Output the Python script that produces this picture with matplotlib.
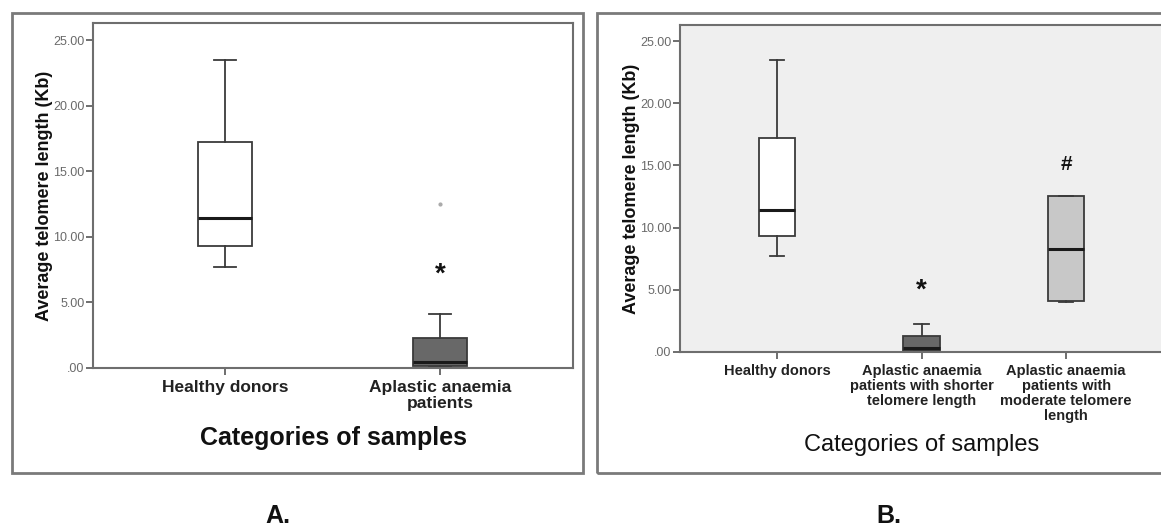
import matplotlib
matplotlib.use("Agg")
import matplotlib.pyplot as plt
from matplotlib.patches import Rectangle
from matplotlib.ticker import FuncFormatter

plt.rcParams['font.family'] = ['Liberation Sans', 'DejaVu Sans']

# panel A data (box statistics, kb)
cats_a = ["Healthy donors", "Aplastic anaemia\npatients"]
low_a = [7.7, 0.05]
q1_a = [9.3, 0.12]
med_a = [11.4, 0.45]
q3_a = [17.25, 2.25]
high_a = [23.5, 4.1]
fliers_a = [[], [12.5]]
colors_a = ["white", "#686868"]
marks_a = ["", "*"]
mark_y_a = [0, 7.1]

# panel B data
cats_b = ["Healthy donors",
          "Aplastic anaemia\npatients with shorter\ntelomere length",
          "Aplastic anaemia\npatients with\nmoderate telomere\nlength"]
low_b = [7.7, 0.05, 4.05]
q1_b = [9.3, 0.1, 4.1]
med_b = [11.4, 0.3, 8.3]
q3_b = [17.25, 1.3, 12.55]
high_b = [23.5, 2.25, 12.55]
colors_b = ["white", "#686868", "#c8c8c8"]
marks_b = ["", "*", "#"]
mark_y_b = [0, 4.9, 15.1]

yticks = [0, 5, 10, 15, 20, 25]

W, H = 1161, 526
fig = plt.figure(figsize=(W / 100, H / 100), dpi=100)


def px(x0, y0, x1, y1):
    # pixel box (top-left origin) -> figure fraction rect
    return [x0 / W, 1 - y1 / H, (x1 - x0) / W, (y1 - y0) / H]


def fmt(v, pos):
    s = "%.2f" % v
    return s[1:] if s.startswith("0") else s


# outer panel frames
for x0, x1 in [(12, 583), (597, 1180)]:
    r = px(x0, 13, x1, 473)
    fig.patches.append(Rectangle((r[0], r[1]), r[2], r[3], transform=fig.transFigure,
                                 fill=False, edgecolor="#7a7a7a", lw=2))


def draw(ax, cats, low, q1, med, q3, high, fliers, colors, marks, mark_y,
         xlim, catsize, catspace, labsize, labweight, labpad, facecolor):
    stats = []
    for i in range(len(cats)):
        stats.append(dict(whislo=low[i], q1=q1[i], med=med[i], q3=q3[i],
                          whishi=high[i], fliers=fliers[i]))
    pos = list(range(1, len(cats) + 1))
    bp = ax.bxp(stats, positions=pos, widths=0.25, patch_artist=True,
                capwidths=0.1,
                boxprops=dict(edgecolor="#3a3a3a", lw=1.3),
                medianprops=dict(color="#1a1a1a", lw=2.2),
                whiskerprops=dict(color="#3a3a3a", lw=1.3),
                capprops=dict(color="#3a3a3a", lw=1.3),
                flierprops=dict(marker="o", markersize=2, markerfacecolor="#aaaaaa",
                                markeredgecolor="#aaaaaa"))
    for b, c in zip(bp["boxes"], colors):
        b.set_facecolor(c)
    for p, m, y in zip(pos, marks, mark_y):
        if m:
            ax.text(p, y, m, ha="center", va="center", fontsize=20 if m == "*" else 15,
                    fontweight="bold", color="#111111")
    ax.set_facecolor(facecolor)
    ax.set_xlim(*xlim)
    ax.set_ylim(0, 26.3)
    ax.set_yticks(yticks)
    ax.yaxis.set_major_formatter(FuncFormatter(fmt))
    ax.set_xticks(pos)
    ax.set_xticklabels(cats, fontsize=catsize, fontweight="bold", color="#222222",
                       linespacing=catspace)
    ax.tick_params(axis="y", labelsize=9, labelcolor="#6a6a6a", color="#555555",
                   length=5, width=1.2, pad=1)
    ax.tick_params(axis="x", color="#555555", length=5, width=1.2)
    for s in ax.spines.values():
        s.set_color("#6e6e6e")
        s.set_linewidth(1.5)
    ax.set_ylabel("Average telomere length (Kb)", fontsize=13, fontweight="bold",
                  color="#111111", labelpad=0)
    ax.set_xlabel("Categories of samples", fontsize=labsize, fontweight=labweight,
                  color="#111111", labelpad=labpad)


ax_a = fig.add_axes(px(93, 23, 573, 368))
draw(ax_a, cats_a, low_a, q1_a, med_a, q3_a, high_a, fliers_a, colors_a,
     marks_a, mark_y_a, (0.385, 2.62), 12.5, 1.1, 18, "bold", 11, "white")

ax_b = fig.add_axes(px(680, 25, 1163, 352))
draw(ax_b, cats_b, low_b, q1_b, med_b, q3_b, high_b, [[], [], []], colors_b,
     marks_b, mark_y_b, (0.33, 3.67), 10.5, 1.1, 17, "normal", 8, "#efefef")

fig.text(278 / W, 1 - 516 / H, "A.", ha="center", va="center", fontsize=18,
         fontweight="bold", color="#111111")
fig.text(889 / W, 1 - 516 / H, "B.", ha="center", va="center", fontsize=18,
         fontweight="bold", color="#111111")

fig.savefig("out.png", dpi=100)
